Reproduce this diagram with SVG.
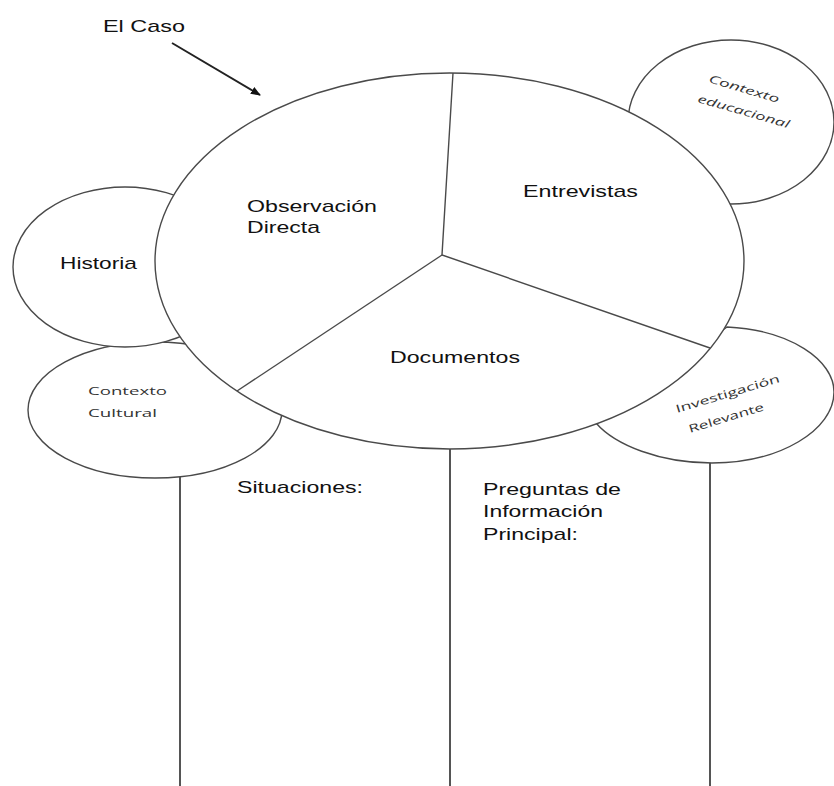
<svg xmlns="http://www.w3.org/2000/svg" width="834" height="786" viewBox="0 0 834 786">
<style>
.sh{fill:#fff;stroke:#4a4a4a;stroke-width:1.4}
.ln{fill:none;stroke:#4a4a4a;stroke-width:1.4}
.vl{fill:none;stroke:#555;stroke-width:2}
.t{font-family:"Liberation Sans",Arial,sans-serif;font-size:17px;fill:#111}
.s{font-family:"Open Sans","DejaVu Sans",sans-serif;font-size:11px;fill:#333}
</style>
<defs>
<marker id="ah" markerWidth="10" markerHeight="8" refX="9" refY="4" orient="auto" markerUnits="userSpaceOnUse">
<path d="M0,0 L10,4 L0,8 z" fill="#111"/>
</marker>
</defs>
<rect width="834" height="786" fill="#fff"/>
<g id="connectors">
<line class="vl" x1="180" y1="477" x2="180" y2="786"/>
<line class="vl" x1="450" y1="449" x2="450" y2="786"/>
<line class="vl" x1="710" y1="463" x2="710" y2="786"/>
<line x1="172" y1="43" x2="260" y2="95" stroke="#222" stroke-width="2" marker-end="url(#ah)"/>
</g>
<g id="contexto-cultural">
<ellipse class="sh" cx="155" cy="410" rx="127" ry="68"/>
<text class="s" x="88" y="395" textLength="79" lengthAdjust="spacingAndGlyphs">Contexto</text>
<text class="s" x="88" y="417" textLength="69" lengthAdjust="spacingAndGlyphs">Cultural</text>
</g>
<g id="historia">
<ellipse class="sh" cx="125" cy="267" rx="112" ry="80"/>
<text class="t" x="60" y="269" textLength="77" lengthAdjust="spacingAndGlyphs">Historia</text>
</g>
<g id="contexto-educacional">
<ellipse class="sh" cx="731" cy="122" rx="103" ry="82"/>
<text class="s" font-style="italic" transform="translate(708 82) rotate(16.7)" textLength="73" lengthAdjust="spacingAndGlyphs">Contexto</text>
<text class="s" font-style="italic" transform="translate(697 102) rotate(16)" textLength="95" lengthAdjust="spacingAndGlyphs">educacional</text>
</g>
<g id="investigacion-relevante">
<path class="sh" d="M 727 327 C 790 330, 834 360, 834 392 C 834 430, 780 463, 712 463 C 660 463, 615 445, 596 423 Z"/>
<text class="s" transform="translate(677 413) rotate(-16.8)" textLength="108" lengthAdjust="spacingAndGlyphs">Investigación</text>
<text class="s" transform="translate(690 433) rotate(-17)" textLength="78" lengthAdjust="spacingAndGlyphs">Relevante</text>
</g>
<g id="el-caso">
<ellipse class="sh" cx="449.5" cy="261" rx="294.5" ry="188"/>
<polyline class="ln" points="453,73 442,255 710,348"/>
<line class="ln" x1="442" y1="255" x2="237" y2="391"/>
</g>
<g id="labels">
<text class="t" x="103" y="32" textLength="82" lengthAdjust="spacingAndGlyphs">El Caso</text>
<text class="t" x="247" y="212" textLength="130" lengthAdjust="spacingAndGlyphs">Observación</text>
<text class="t" x="247" y="233" textLength="73" lengthAdjust="spacingAndGlyphs">Directa</text>
<text class="t" x="523" y="197" textLength="115" lengthAdjust="spacingAndGlyphs">Entrevistas</text>
<text class="t" x="390" y="363" textLength="130" lengthAdjust="spacingAndGlyphs">Documentos</text>
<text class="t" x="237" y="493" textLength="126" lengthAdjust="spacingAndGlyphs">Situaciones:</text>
<text class="t" x="483" y="495" textLength="138" lengthAdjust="spacingAndGlyphs">Preguntas de</text>
<text class="t" x="483" y="517" textLength="120" lengthAdjust="spacingAndGlyphs">Información</text>
<text class="t" x="483" y="540" textLength="95" lengthAdjust="spacingAndGlyphs">Principal:</text>
</g>
</svg>
